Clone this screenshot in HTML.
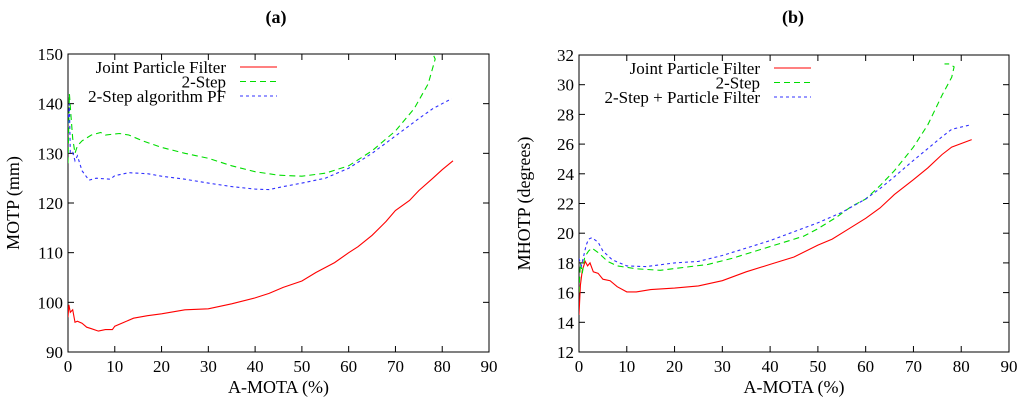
<!DOCTYPE html>
<html><head><meta charset="utf-8">
<style>
body{margin:0;background:#fff;}
svg{display:block;}
svg text{font-family:"Liberation Serif","DejaVu Serif",serif;}
</style></head>
<body>
<svg id="chart" width="1024" height="400" viewBox="0 0 1024 400">
<text x="276" y="23" text-anchor="middle" font-weight="bold" font-size="18" font-family="Liberation Serif, DejaVu Serif, serif">(a)</text>
<text x="793" y="23" text-anchor="middle" font-weight="bold" font-size="18" font-family="Liberation Serif, DejaVu Serif, serif">(b)</text>
</svg>
<script>
const xTicks=[0,10,20,30,40,50,60,70,80,90];
const yTicksA=[90,100,110,120,130,140,150];
const yTicksB=[12,14,16,18,20,22,24,26,28,30,32];
const seriesNamesA=["Joint Particle Filter","2-Step","2-Step algorithm PF"];
const seriesNamesB=["Joint Particle Filter","2-Step","2-Step + Particle Filter"];
const aRedX=[0,0.2,0.5,1,1.5,2,3,4,5,6.5,8,9.5,10,12,14,17,20,25,30,35,40,43,46,50,53,57,60,62,65,68,70,73,75,78,80,82.3];
const aRedY=[97,99.5,98,98.5,96,96.2,95.8,95,94.7,94.2,94.5,94.5,95.2,96,96.8,97.3,97.7,98.5,98.7,99.7,100.9,101.8,103,104.3,106,108,110,111.2,113.5,116.3,118.5,120.5,122.5,125,126.7,128.5];
const aGreenX=[0,0.3,0.6,1,1.5,2,3,5,7,8,11,13,16,20,25,30,35,40,45,50,55,60,65,70,74,77,78.5,78];
const aGreenY=[128,142,138,133,130,131.5,132.5,133.7,134.2,133.7,134,133.7,132.5,131.2,130,129,127.5,126.3,125.6,125.4,126,127.5,130.5,134.5,139,144,149,150];
const aBlueX=[0,0.3,0.5,1,1.5,2,3,4.5,6,9,10,13,17,20,25,30,35,40,43,46,50,55,60,65,70,75,78,82];
const aBlueY=[136,140,130,130.2,128.5,129.5,126.5,124.6,125,124.8,125.5,126.1,125.9,125.4,124.8,124,123.3,122.8,122.7,123.3,124,125,127,130,133.5,137,139,141];
const bRedX=[0,0.3,0.7,1.3,1.8,2.3,3,4,5,6.5,8,10,12,15,20,25,30,35,40,45,50,53,56,60,63,66,70,73,76,78,82.2];
const bRedY=[14.5,16.5,17.5,18.1,17.8,18,17.4,17.3,16.9,16.8,16.4,16.05,16.05,16.2,16.3,16.45,16.8,17.4,17.9,18.4,19.2,19.6,20.2,21,21.7,22.6,23.6,24.4,25.3,25.8,26.3];
const bGreenX=[0,0.3,0.7,1.2,2,2.7,4,6,8,12,17,22,27,32,37,42,47,50,54,57,60,63,66,70,73,76,78,78.5,77.5,76.5];
const bGreenY=[16,18,17.3,18.4,18.8,19,18.7,18.1,17.8,17.6,17.5,17.7,17.9,18.3,18.8,19.3,19.8,20.3,21.1,21.8,22.3,23.2,24.2,25.8,27.3,29.3,30.5,31.2,31.4,31.4];
const bBlueX=[0,0.5,1,1.5,2,2.7,4,5,7,10,14,20,25,30,35,40,45,50,55,60,63,66,70,73,76,78,82];
const bBlueY=[18.3,17.8,18.5,19.2,19.6,19.7,19.4,18.8,18.2,17.8,17.75,18,18.1,18.5,19,19.5,20.1,20.7,21.4,22.3,23,23.8,24.9,25.7,26.5,27,27.3];

const NS="http://www.w3.org/2000/svg";
const svg=document.getElementById('chart');
const FF="Liberation Serif, DejaVu Serif, serif";
function mk(tag,attrs,parent){const e=document.createElementNS(NS,tag);for(const k in attrs)e.setAttribute(k,attrs[k]);if(tag==='text')e.setAttribute('font-family',FF);(parent||svg).appendChild(e);return e;}
const styles=[{c:"#ff0000",d:""},{c:"#00dd00",d:"6,4"},{c:"#3030ff",d:"3,3"}];

function panel(id,box,yTicks,yLabel,names,series){
  const g=mk('g',{});
  
  
  const y0=yTicks[0],y1=yTicks[yTicks.length-1];
  const sx=v=>box.l+(v-0)/(90-0)*(box.r-box.l);
  const sy=v=>box.b-(v-y0)/(y1-y0)*(box.b-box.t);
  const frame=mk('rect',{x:box.l,y:box.t,width:box.r-box.l,height:box.b-box.t,fill:'none',stroke:'#000','stroke-width':1},g);
  
  
  xTicks.forEach(v=>{
    const x=sx(v);
    mk('line',{x1:x,x2:x,y1:box.b,y2:box.b-6,stroke:'#000'},g);
    mk('line',{x1:x,x2:x,y1:box.t,y2:box.t+6,stroke:'#000'},g);
    const t=mk('text',{x:x,y:box.b+20,'text-anchor':'middle','font-size':17},g);
    t.textContent=v;
    
    
  });
  yTicks.forEach(v=>{
    const y=sy(v);
    mk('line',{x1:box.l,x2:box.l+6,y1:y,y2:y,stroke:'#000'},g);
    mk('line',{x1:box.r,x2:box.r-6,y1:y,y2:y,stroke:'#000'},g);
    const t=mk('text',{x:box.l-5,y:y+6,'text-anchor':'end','font-size':17},g);
    t.textContent=v;
    
    
  });
  const xt=mk('text',{x:(box.l+box.r)/2,y:box.b+41,'text-anchor':'middle','font-size':18},g);
  xt.textContent='A-MOTA (%)';
  
  
  const yt=mk('text',{x:0,y:0,'text-anchor':'middle','font-size':18,transform:`translate(${box.l-49},${(box.t+box.b)/2}) rotate(-90)`},g);
  yt.textContent=yLabel;
  
  
  const clip=mk('clipPath',{id:'clip'+id},g);
  mk('rect',{x:box.l,y:box.t-1,width:box.r-box.l,height:box.b-box.t+2},clip);
  series.forEach((s,i)=>{
    const pts=s[0].map((xv,j)=>sx(xv).toFixed(1)+','+sy(s[1][j]).toFixed(1)).join(' ');
    const p=mk('polyline',{points:pts,fill:'none',stroke:styles[i].c,'stroke-width':1.1,'stroke-dasharray':styles[i].d,'clip-path':`url(#clip${id})`},g);
    
    
    const ly=box.t+13+i*14.5;
    const lt=mk('text',{x:box.legX,y:ly+6,'text-anchor':'end','font-size':17},g);
    lt.textContent=names[i];
    
    
    const ll=mk('line',{x1:box.legX+14,x2:box.legX+51,y1:ly,y2:ly,stroke:styles[i].c,'stroke-width':1.1,'stroke-dasharray':styles[i].d},g);
    
    
  });
}
panel('a',{l:68,r:489,t:54,b:352,legX:226},yTicksA,'MOTP (mm)',seriesNamesA,[[aRedX,aRedY],[aGreenX,aGreenY],[aBlueX,aBlueY]]);
panel('b',{l:579,r:1009,t:55,b:352,legX:760},yTicksB,'MHOTP (degrees)',seriesNamesB,[[bRedX,bRedY],[bGreenX,bGreenY],[bBlueX,bBlueY]]);
</script>
</body></html>
